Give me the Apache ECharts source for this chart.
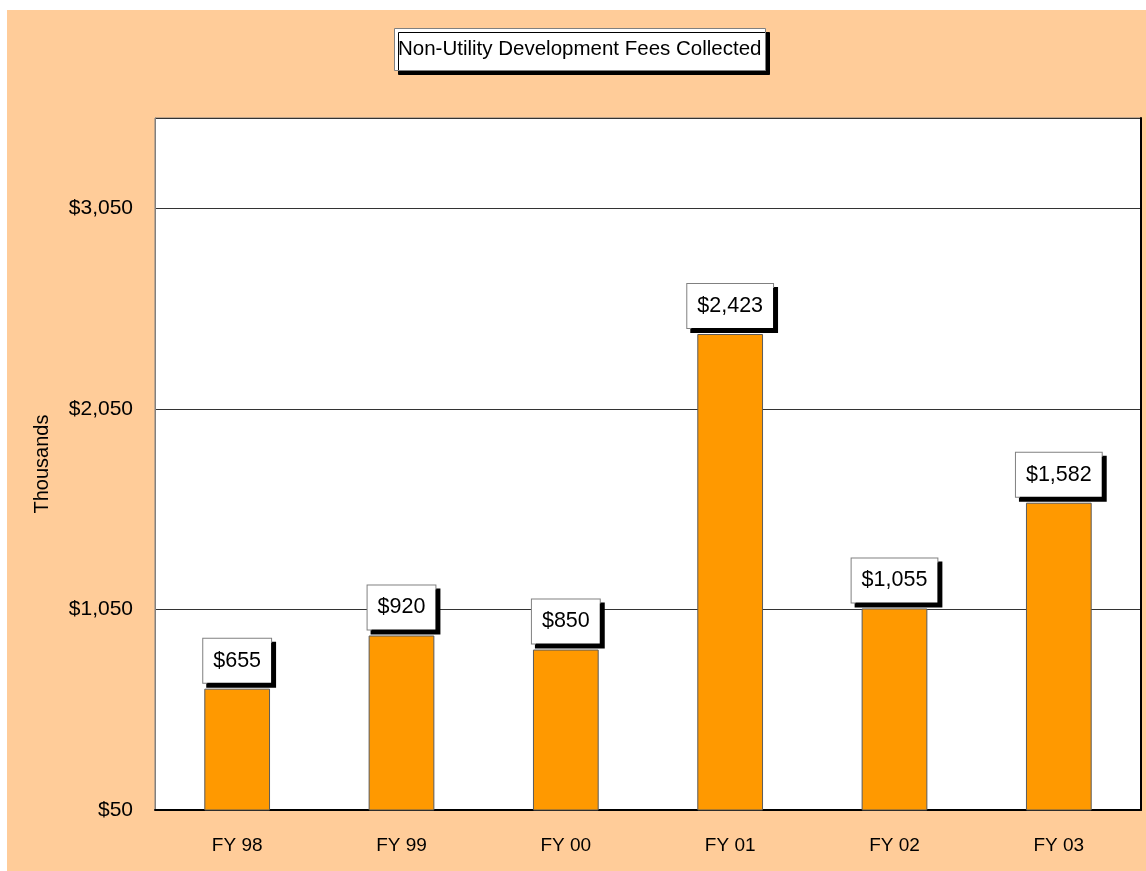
<!DOCTYPE html>
<html>
<head>
<meta charset="utf-8">
<script src="https://cdn.jsdelivr.net/npm/echarts@6/dist/echarts.min.js"></script>
<style>
html,body{margin:0;padding:0;background:#fff;}
#chart{width:1146px;height:871px;}
</style>
</head>
<body>
<div id="chart"></div>
<script>
var categories = ['FY 98', 'FY 99', 'FY 00', 'FY 01', 'FY 02', 'FY 03'];
var fees = [655, 920, 850, 2423, 1055, 1582];
var titleText = 'Non-Utility Development Fees Collected';
var axisName = 'Thousands';

function money(v) {
  return '$' + Math.round(v).toString().replace(/\B(?=(\d{3})+(?!\d))/g, ',');
}

var FONT = 'Liberation Sans, Arial, sans-serif';
var chart = echarts.init(document.getElementById('chart'), null, {renderer: 'canvas'});
chart.setOption({
  backgroundColor: '#ffffff',
  animation: false,
  graphic: [{
    type: 'rect', silent: true, z: -100,
    shape: {x: 7, y: 10, width: 1139, height: 861},
    style: {fill: '#FFCC99'}
  }],
  title: {
    text: titleText,
    left: 394, top: 28,
    padding: [11, 4, 11, 4],
    backgroundColor: '#ffffff',
    borderColor: '#808080',
    borderWidth: 1,
    shadowColor: '#000000',
    shadowBlur: 0,
    shadowOffsetX: 4,
    shadowOffsetY: 4,
    textStyle: {fontFamily: FONT, fontSize: 20.5, fontWeight: 'normal', color: '#000'}
  },
  grid: {
    left: 155, top: 118, right: 5, bottom: 61,
    show: true, backgroundColor: '#ffffff',
    borderColor: '#808080', borderWidth: 1
  },
  xAxis: {
    type: 'category',
    data: categories,
    axisLine: {lineStyle: {color: '#000', width: 2}},
    axisTick: {show: false},
    axisLabel: {fontFamily: FONT, fontSize: 19, color: '#000', margin: 26}
  },
  yAxis: [{
    type: 'value',
    min: 50, max: 3500, interval: 1000,
    name: axisName,
    nameLocation: 'middle',
    nameRotate: 90,
    nameGap: 103,
    nameTextStyle: {fontFamily: FONT, fontSize: 20, color: '#000'},
    axisLine: {show: true, lineStyle: {color: '#808080', width: 1}},
    axisTick: {show: false},
    axisLabel: {fontFamily: FONT, fontSize: 21, color: '#000', margin: 22, showMaxLabel: false,
      formatter: function (v) { return money(v); }},
    splitLine: {show: true, lineStyle: {color: '#333', width: 1}}
  }, {
    type: 'value',
    position: 'right',
    min: 50, max: 3500, interval: 1000,
    axisLine: {show: true, lineStyle: {color: '#000', width: 2}},
    axisTick: {show: false},
    axisLabel: {show: false},
    splitLine: {show: false}
  }],
  series: [{
    type: 'bar',
    data: fees,
    barWidth: '40%',
    itemStyle: {color: '#FF9900', borderColor: '#5a5a5a', borderWidth: 1},
    label: {
      show: true,
      position: 'top',
      distance: 6,
      formatter: function (p) { return money(p.value); },
      fontFamily: FONT, fontSize: 21.5, color: '#000',
      backgroundColor: '#ffffff',
      borderColor: '#808080', borderWidth: 1,
      padding: [11, 10, 11, 10],
      shadowColor: '#000000', shadowBlur: 0, shadowOffsetX: 4, shadowOffsetY: 4
    }
  }]
});
</script>
</body>
</html>
